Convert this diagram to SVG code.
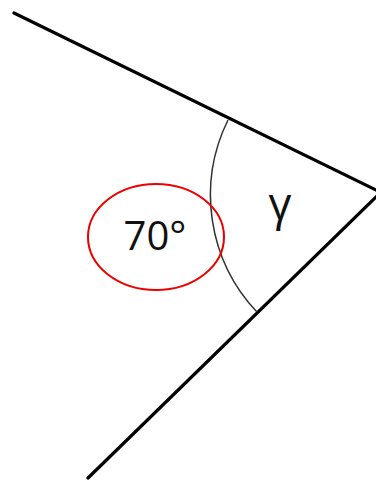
<svg xmlns="http://www.w3.org/2000/svg" width="376" height="480" viewBox="0 0 376 480">
<style>
.ray{stroke:#000;stroke-width:3.2;fill:none;stroke-linecap:round}
.arc{stroke:#333;stroke-width:1.5;fill:none}
.lbl{font-family:"Open Sans","Liberation Sans",sans-serif;fill:#111}
</style>
<rect width="376" height="480" fill="#fff"/>
<g id="rays">
<line class="ray" x1="14" y1="13" x2="378" y2="191"/>
<line class="ray" x1="378" y1="195" x2="88" y2="478"/>
</g>
<g id="arc">
<path class="arc" d="M228,120 A170,170 0 0,0 257,312"/>
</g>
<g id="gamma">
<text class="lbl" x="280" y="220" font-size="45" text-anchor="middle">γ</text>
</g>
<g id="angle70">
<ellipse cx="156" cy="237" rx="68" ry="53" fill="none" stroke="#e00" stroke-width="2"/>
<text class="lbl" x="155" y="250" font-size="40" text-anchor="middle">70°</text>
</g>
</svg>
